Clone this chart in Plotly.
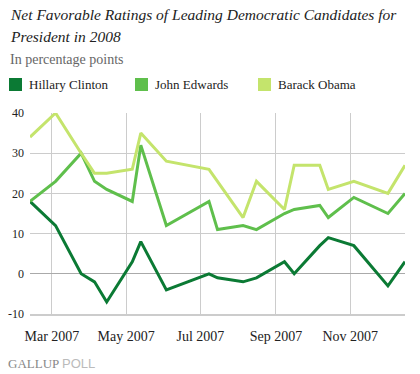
import plotly.graph_objects as go

dates = ["2007-02-11", "2007-03-04", "2007-03-25", "2007-04-05", "2007-04-15",
         "2007-05-06", "2007-05-13", "2007-06-03", "2007-07-08", "2007-07-15",
         "2007-08-05", "2007-08-16", "2007-09-08", "2007-09-16", "2007-10-07",
         "2007-10-14", "2007-11-04", "2007-12-02", "2007-12-16"]
clinton = [18, 12, 0, -2, -7, 3, 8, -4, 0, -1, -2, -1, 3, 0, 7, 9, 7, -3, 3]
edwards = [18, 23, 30, 23, 21, 18, 32, 12, 18, 11, 12, 11, 15, 16, 17, 14, 19, 15, 20]
obama = [34, 40, 30, 25, 25, 26, 35, 28, 26, 23, 14, 23, 16, 27, 27, 21, 23, 20, 27]

series_names = ["Hillary Clinton", "John Edwards", "Barack Obama"]
series_colors = ["#0b7a34", "#5fbf4c", "#c4e46c"]
tick_vals = ["2007-03-01", "2007-05-01", "2007-07-01", "2007-09-01", "2007-11-01"]
tick_text = ["Mar 2007", "May 2007", "Jul 2007", "Sep 2007", "Nov 2007"]
y_ticks = [-10, 0, 10, 20, 30, 40]
y_tick_text = ["-10", "0", "10", "20", "30", "40"]

SERIF = "Liberation Serif, Georgia, serif"

fig = go.Figure()
for name, vals, col in zip(series_names, [clinton, edwards, obama], series_colors):
    fig.add_trace(go.Scatter(x=dates, y=vals, mode="lines", name=name,
                             line=dict(color=col, width=3), showlegend=False))

fig.update_layout(
    width=420, height=374,
    margin=dict(l=30, r=15, t=113, b=60),
    paper_bgcolor="white", plot_bgcolor="white",
    font=dict(family=SERIF, size=12, color="#222"),
    xaxis=dict(type="date", range=[dates[0], dates[-1]], automargin=False,
               tickvals=tick_vals, ticktext=tick_text,
               showgrid=True, gridcolor="#cccccc", gridwidth=1,
               showline=True, linecolor="#cccccc", linewidth=2,
               ticks="", tickfont=dict(family=SERIF, size=14, color="#222"),
               ticklabelstandoff=8),
    yaxis=dict(range=[-10, 40], tickvals=y_ticks, ticktext=y_tick_text,
               automargin=False,
               showgrid=True, gridcolor="#cccccc", gridwidth=1,
               zeroline=True, zerolinecolor="#aaaaaa", zerolinewidth=1,
               ticks="", tickfont=dict(family=SERIF, size=12, color="#222"),
               ticklabelstandoff=5),
)


def px_x(p):
    return (p - 30) / 375.0


def px_y(p):
    return (314 - p) / 201.0


fig.add_annotation(text="<i>Net Favorable Ratings of Leading Democratic Candidates for</i>",
                   x=px_x(8), y=px_y(4), xref="paper", yref="paper",
                   xanchor="left", yanchor="top", showarrow=False,
                   font=dict(family=SERIF, size=15.5, color="#222"))
fig.add_annotation(text="<i>President in 2008</i>",
                   x=px_x(8), y=px_y(26), xref="paper", yref="paper",
                   xanchor="left", yanchor="top", showarrow=False,
                   font=dict(family=SERIF, size=15.5, color="#222"))
fig.add_annotation(text="In percentage points",
                   x=px_x(8), y=px_y(50), xref="paper", yref="paper",
                   xanchor="left", yanchor="top", showarrow=False,
                   font=dict(family=SERIF, size=14, color="#666"))

legend_x = [9, 135, 258]
for lx, name, col in zip(legend_x, series_names, series_colors):
    fig.add_shape(type="rect", xref="paper", yref="paper",
                  x0=px_x(lx), x1=px_x(lx + 13), y0=px_y(91), y1=px_y(78),
                  fillcolor=col, line=dict(width=0))
    fig.add_annotation(text=name, x=px_x(lx + 18), y=px_y(84.5),
                       xref="paper", yref="paper", xanchor="left", yanchor="middle",
                       showarrow=False, font=dict(family=SERIF, size=13, color="#222"))

fig.add_annotation(text="GALLUP <span style='font-family:Liberation Sans, Arial, sans-serif;color:#bbbbbb'>POLL</span>",
                   x=px_x(6), y=px_y(363), xref="paper", yref="paper",
                   xanchor="left", yanchor="middle", showarrow=False,
                   font=dict(family=SERIF, size=13, color="#888888"))

fig.write_html("out.html", config={"displayModeBar": False},
               post_script="document.body.style.margin='0px';")
